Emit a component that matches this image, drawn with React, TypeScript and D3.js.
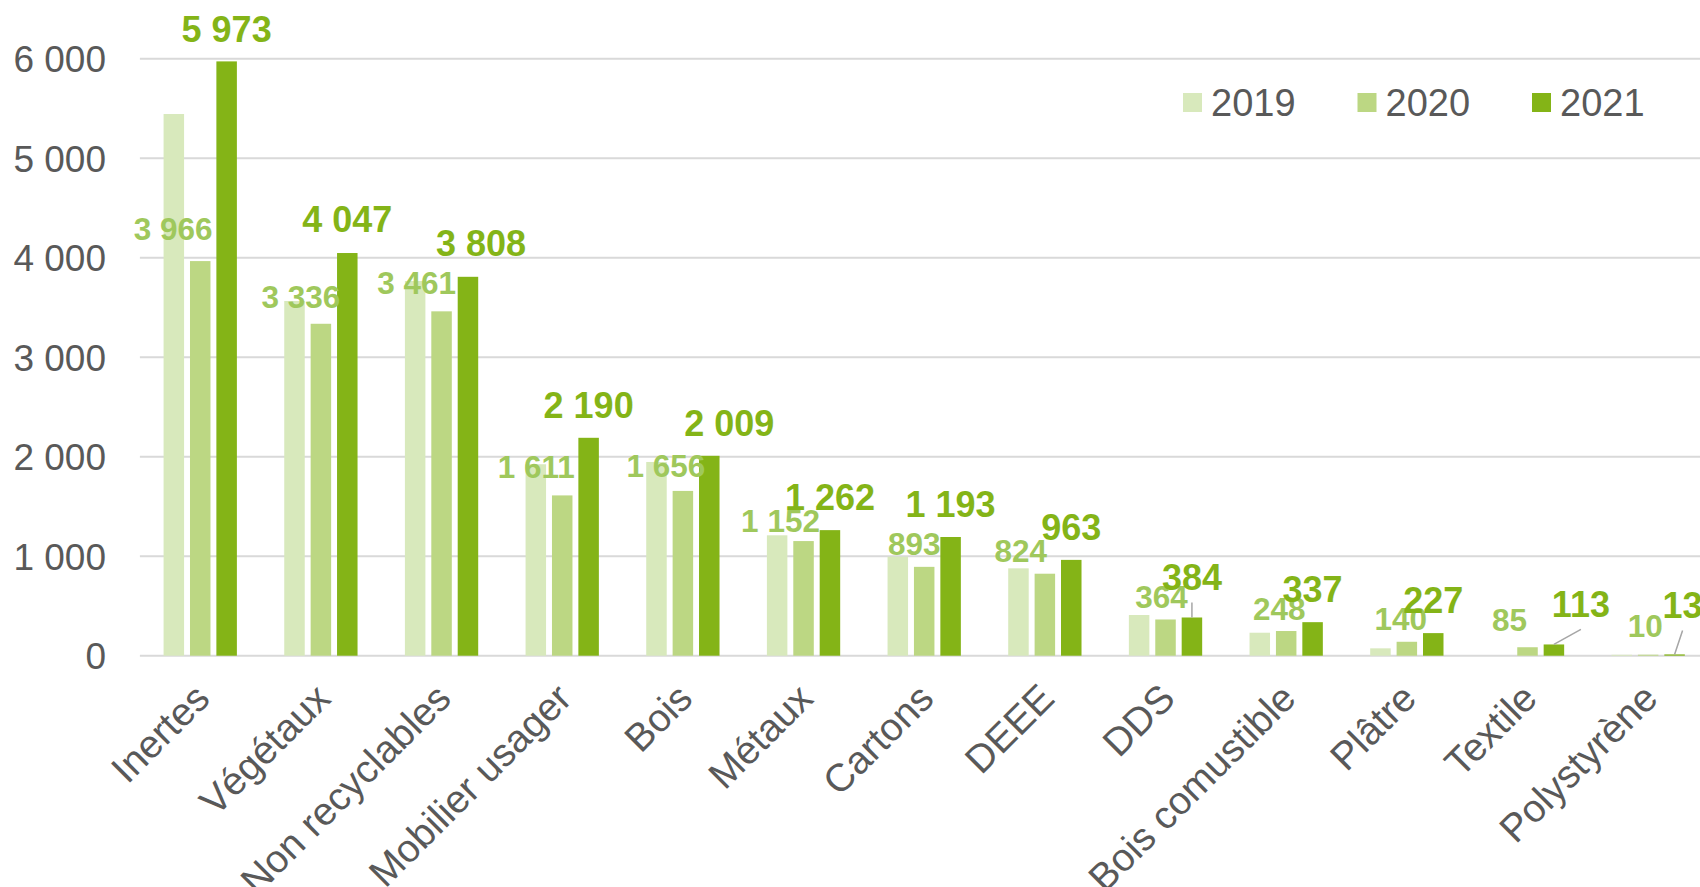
import React, { useEffect } from "react";
import * as d3 from "d3";

const categories = [
  "Inertes",
  "Végétaux",
  "Non recyclables",
  "Mobilier usager",
  "Bois",
  "Métaux",
  "Cartons",
  "DEEE",
  "DDS",
  "Bois comustible",
  "Plâtre",
  "Textile",
  "Polystyrène",
];
const years = ["2019", "2020", "2021"];
const values2019 = [5444, 3565, 3766, 1924, 1947, 1210, 995, 878, 409, 231, 74, 0, 9];
const values2020 = [3966, 3336, 3461, 1611, 1656, 1152, 893, 824, 364, 248, 140, 85, 10];
const values2021 = [5973, 4047, 3808, 2190, 2009, 1262, 1193, 963, 384, 337, 227, 113, 13];
const yTicks = [0, 1000, 2000, 3000, 4000, 5000, 6000];

// manual label nudges (relative to the bar top centre), as in the original
const nudge2020 = [
  [-27, -21], [-20, -16], [-25, -17], [-26, -17], [-17, -14], [-23, -9], [-10, -12],
  [-24, -12], [-4, -11], [-7, -11], [-6, -12], [-18, -16], [-3, -18],
];
const nudge2021 = [
  [0, -19], [0, -21], [13, -21], [0, -20], [20, -20], [0, -20], [0, -20],
  [0, -20], [0, -27], [0, -20], [0, -20], [27, -27], [8, -36],
];
const leader2021 = [8, 11, 12];

const colors = ["#d8e9bc", "#bcd783", "#84b417"];
const label2020Color = "#9fc85c";
const textColor = "#595959";
const gridColor = "#d9d9d9";
const font = "'Liberation Sans', Arial, sans-serif";

const W = 1700;
const H = 887;

const fr = d3.formatLocale({ decimal: ",", thousands: " ", grouping: [3], currency: ["", " €"] });
const fmt = fr.format(",d");

export default function App() {
  useEffect(() => {
    document.body.style.margin = "0";
    document.body.style.overflow = "hidden";
  }, []);

  const x0 = d3
    .scaleBand<string>()
    .domain(categories)
    .range([139.9, 1708.5])
    .paddingInner(0.3925)
    .paddingOuter(0.19625);
  const x1 = d3
    .scaleBand<string>()
    .domain(years)
    .range([0, x0.bandwidth()])
    .paddingInner(0.2235)
    .paddingOuter(0);
  const y = d3.scaleLinear().domain([0, 6000]).range([655.7, 58.7]);

  const series = [values2019, values2020, values2021];
  const bw = x1.bandwidth();

  const barCx = (i: number, s: number) => (x0(categories[i]) as number) + (x1(years[s]) as number) + bw / 2;

  return (
    <div style={{ position: "absolute", left: 0, top: 0, width: W, height: H }}>
      <svg width={W} height={H} style={{ display: "block", background: "#fff" }} fontFamily={font}>
        {/* gridlines */}
        {yTicks.map((t) => (
          <line key={"g" + t} x1={139.9} x2={W} y1={y(t)} y2={y(t)} stroke={gridColor} strokeWidth={2} />
        ))}
        {/* y tick labels */}
        {yTicks.map((t) => (
          <text
            key={"yt" + t}
            x={106}
            y={y(t)}
            dy="0.36em"
            textAnchor="end"
            fontSize={37}
            fill={textColor}
          >
            {fmt(t)}
          </text>
        ))}
        {/* bars */}
        {series.map((vals, s) =>
          vals.map((v, i) =>
            v > 0 ? (
              <rect
                key={`b${s}-${i}`}
                x={(x0(categories[i]) as number) + (x1(years[s]) as number)}
                y={y(v)}
                width={bw}
                height={y(0) - y(v)}
                fill={colors[s]}
              />
            ) : null
          )
        )}
        {/* leader lines */}
        {leader2021.map((i) => {
          const cx = barCx(i, 2);
          const top = y(values2021[i]);
          return (
            <line
              key={"ld" + i}
              x1={cx}
              y1={top}
              x2={cx + nudge2021[i][0]}
              y2={top + nudge2021[i][1] + 12}
              stroke="#a6a6a6"
              strokeWidth={1.5}
            />
          );
        })}
        {/* 2020 labels */}
        {values2020.map((v, i) => (
          <text
            key={"l20" + i}
            x={barCx(i, 1) + nudge2020[i][0]}
            y={y(v) + nudge2020[i][1]}
            textAnchor="middle"
            fontSize={31.5}
            fontWeight="bold"
            fill={label2020Color}
          >
            {fmt(v)}
          </text>
        ))}
        {/* 2021 labels */}
        {values2021.map((v, i) => (
          <text
            key={"l21" + i}
            x={barCx(i, 2) + nudge2021[i][0]}
            y={y(v) + nudge2021[i][1]}
            textAnchor="middle"
            fontSize={36}
            fontWeight="bold"
            fill={colors[2]}
          >
            {fmt(v)}
          </text>
        ))}
        {/* x axis labels */}
        {categories.map((c) => {
          const cx = (x0(c) as number) + x0.bandwidth() / 2;
          return (
            <text
              key={"xl" + c}
              transform={`translate(${cx - 8},${681}) rotate(-45)`}
              dy="0.71em"
              textAnchor="end"
              fontSize={39}
              fill={textColor}
            >
              {c}
            </text>
          );
        })}
        {/* legend */}
        {years.map((yr, k) => {
          const lx = 1183 + k * 174.5;
          return (
            <g key={"lg" + yr}>
              <rect x={lx} y={93} width={19} height={19} fill={colors[k]} />
              <text x={lx + 28} y={116} fontSize={38} fill={textColor}>
                {yr}
              </text>
            </g>
          );
        })}
      </svg>
    </div>
  );
}
